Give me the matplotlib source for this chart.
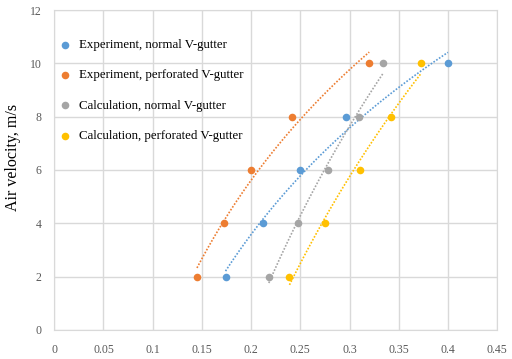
import numpy as np
from matplotlib import pyplot as plt

plt.rcParams['font.family'] = ['Liberation Serif', 'DejaVu Serif']

airVelocity = [2, 4, 6, 8, 10]
expNormal = [0.174, 0.212, 0.250, 0.296, 0.400]
expPerforated = [0.145, 0.172, 0.200, 0.242, 0.320]
calcNormal = [0.218, 0.248, 0.278, 0.310, 0.334]
calcPerforated = [0.239, 0.275, 0.311, 0.342, 0.373]

seriesNames = ["Experiment, normal V-gutter", "Experiment, perforated V-gutter",
               "Calculation, normal V-gutter", "Calculation, perforated V-gutter"]
seriesX = [expNormal, expPerforated, calcNormal, calcPerforated]
colours = ["#5B9BD5", "#ED7D31", "#A5A5A5", "#FFC000"]

fig, ax = plt.subplots(figsize=(5.12, 3.59), dpi=100)
fig.subplots_adjust(left=0.106, right=0.971, top=0.972, bottom=0.081)

for x, name, c in zip(seriesX, seriesNames, colours):
	ax.scatter(x, airVelocity, s=30, color=c, label=name, zorder=3, linewidths=0)
	# logarithmic trendline like excel
	coef = np.polyfit(np.log(x), airVelocity, 1)
	xs = np.linspace(min(x), max(x), 50)
	ax.plot(xs, np.polyval(coef, np.log(xs)), linestyle=(0, (1, 1)), color=c, linewidth=1.2, zorder=2)

ax.set_xlim(0, 0.45)
ax.set_ylim(0, 12)
ax.set_xticks(np.arange(0, 0.451, 0.05))
ax.set_xticklabels(["0", "0.05", "0.1", "0.15", "0.2", "0.25", "0.3", "0.35", "0.4", "0.45"])
ax.set_yticks(range(0, 13, 2))
ax.grid(True, color="#D9D9D9", linewidth=1)
ax.set_axisbelow(True)
for s in ax.spines.values():
	s.set_color("#D9D9D9")
ax.tick_params(length=0, labelsize=8.5, colors="#595959")
ax.tick_params(axis='x', pad=10)
ax.tick_params(axis='y', pad=9)
ax.set_ylabel("Air velocity, m/s", fontsize=11.5)
ax.yaxis.set_label_coords(-0.075, 0.54)

ax.legend(loc="upper left", frameon=False, fontsize=9.3, labelspacing=1.42,
          handlelength=1.0, handletextpad=0.65, borderaxespad=0.0,
          bbox_to_anchor=(-0.003, 0.926))

plt.savefig("out.png", dpi=100)
plt.close('all')
